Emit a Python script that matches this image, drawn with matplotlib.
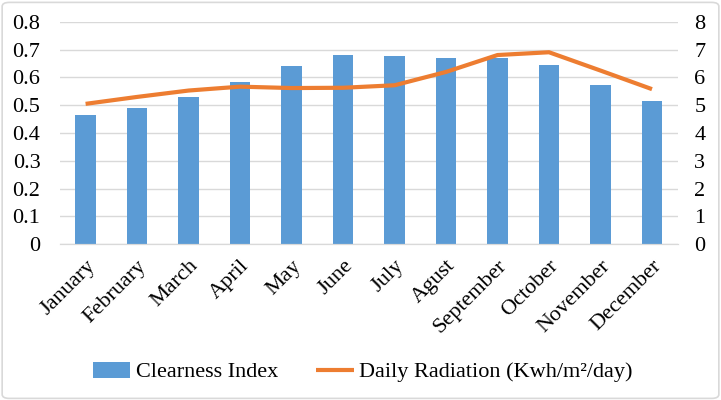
import matplotlib.pyplot as plt
import numpy as np
from matplotlib.patches import FancyBboxPatch

plt.rcParams['font.family'] = ['Liberation Serif', 'DejaVu Serif']

months = ['January', 'February', 'March', 'April', 'May', 'June', 'July',
          'Agust', 'September', 'October', 'November', 'December']
clearness = [0.464, 0.489, 0.529, 0.585, 0.643, 0.682, 0.678, 0.670,
             0.671, 0.644, 0.574, 0.515]
radiation = [5.05, 5.30, 5.53, 5.67, 5.62, 5.63, 5.72, 6.20, 6.81, 6.91,
             6.25, 5.58]

fig = plt.figure(figsize=(7.21, 4.0), dpi=100)
ax = fig.add_axes([0.083, 0.39, 0.857, 0.555])
ax2 = ax.twinx()

x = np.arange(len(months))
bars = ax.bar(x, clearness, width=0.4, color='#5B9BD5', zorder=2,
              label='Clearness Index')
line, = ax2.plot(x, radiation, color='#ED7D31', lw=3, zorder=3,
                 solid_capstyle='butt', label='Daily Radiation (Kwh/m²/day)')

ax.set_xlim(-0.5, len(months) - 0.5)
ax.set_ylim(0, 0.8)
ax.set_yticks(np.arange(0, 0.81, 0.1))
ax.set_yticklabels(['0'] + ['%.1f' % v for v in np.arange(0.1, 0.81, 0.1)])
ax2.set_ylim(0, 8)
ax2.set_yticks(range(0, 9))

ax.set_xticks(x)
ax.set_xticklabels(months, rotation=45, ha='right', rotation_mode='anchor')
ax.grid(axis='y', color='#D9D9D9', lw=1, zorder=0)
for a in (ax, ax2):
    for s in ('top', 'left', 'right'):
        a.spines[s].set_visible(False)
    a.spines['bottom'].set_color('#D9D9D9')
    a.tick_params(length=0, labelsize=16, pad=6)
ax.tick_params(axis='x', pad=9)
ax.tick_params(axis='y', pad=14)
ax2.tick_params(axis='y', pad=12)

fig.legend(handles=[bars, line], loc='center', bbox_to_anchor=(0.503, 0.07),
           ncol=2, frameon=False, fontsize=16, handlelength=1.7,
           handleheight=0.75, columnspacing=1.7, handletextpad=0.25)

border = FancyBboxPatch((0.003, 0.004), 0.994, 0.99, transform=fig.transFigure,
                        boxstyle='round,pad=0,rounding_size=0.01',
                        fill=False, edgecolor='#D9D9D9', lw=1.2)
fig.patches.append(border)

fig.savefig('out.png', dpi=100)
